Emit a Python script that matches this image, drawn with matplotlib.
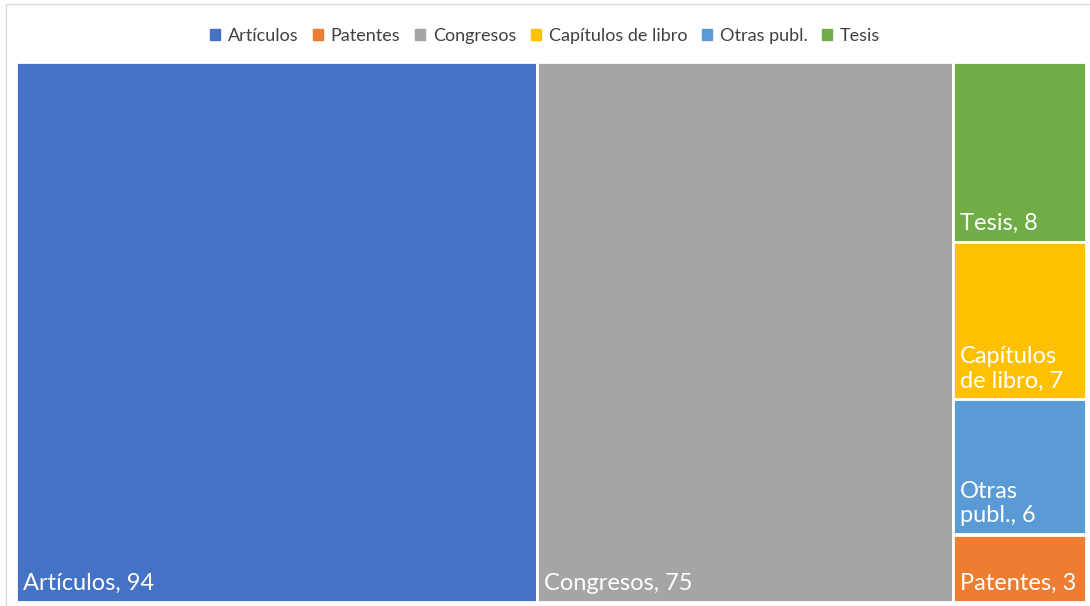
import matplotlib.pyplot as plt
from matplotlib.patches import Rectangle
import textwrap

# publication counts by type
categories = ['Artículos', 'Patentes', 'Congresos', 'Capítulos de libro', 'Otras publ.', 'Tesis']
values = [94, 3, 75, 7, 6, 8]
colors = ['#4472C4', '#ED7D31', '#A5A5A5', '#FFC000', '#5B9BD5', '#70AD47']

plt.rcParams['font.family'] = ['Lato', 'DejaVu Sans']

W, H = 1090, 606
fig = plt.figure(figsize=(W / 100, H / 100), dpi=100)
fig.patch.set_facecolor('white')

# light chart frame
fig.patches.append(Rectangle((6 / W, -0.1), 1.2, (H - 4) / H + 0.1, transform=fig.transFigure,
                             fill=False, edgecolor='#D9D9D9', linewidth=1.0))

ax = fig.add_axes([16 / W, 4 / H, 1070 / W, 540 / H])
ax.set_xlim(0, 1070)
ax.set_ylim(0, 540)
ax.axis('off')


def worst(row, side):
    s = sum(row)
    return max(max(side * side * r / (s * s), (s * s) / (side * side * r)) for r in row)


def squarify(vals, x, y, w, h):
    # vals already scaled to area; y measured from top
    rects = []
    vals = list(vals)
    while vals:
        side = min(w, h)
        row = [vals[0]]
        i = 1
        while i < len(vals) and worst(row + [vals[i]], side) <= worst(row, side):
            row.append(vals[i])
            i += 1
        vals = vals[i:]
        s = sum(row)
        if w >= h:
            cw = s / h
            cy = y
            for r in row:
                rh = r / cw
                rects.append((x, cy, cw, rh))
                cy += rh
            x += cw
            w -= cw
        else:
            rh = s / w
            cx = x
            for r in row:
                rw = r / rh
                rects.append((cx, y, rw, rh))
                cx += rw
            y += rh
            h -= rh
    return rects


order = sorted(range(len(values)), key=lambda i: -values[i])
total = sum(values)
scaled = [values[i] * 1070 * 540 / total for i in order]
rects = squarify(scaled, 0, 0, 1070, 540)

fig.canvas.draw()
renderer = fig.canvas.get_renderer()

for idx, (rx, ry, rw, rh) in zip(order, rects):
    y0 = 540 - ry - rh
    ax.add_patch(Rectangle((rx, y0), rw, rh, facecolor=colors[idx],
                           edgecolor='white', linewidth=2))
    label = f'{categories[idx]}, {values[idx]}'
    t = ax.text(rx + 7, y0 + 8, label, color='white', fontsize=17,
                ha='left', va='bottom', linespacing=1.2)
    # wrap label when it does not fit the cell
    width = 40
    while t.get_window_extent(renderer).width > rw - 14 and width > 4:
        width -= 1
        t.set_text(textwrap.fill(label, width))

handles = [Rectangle((0, 0), 1, 1, color=c) for c in colors]
fig.legend(handles, categories, loc='center', bbox_to_anchor=(0.5, 1 - 36 / H), ncol=6,
           frameon=False, fontsize=13, handlelength=0.55, handleheight=0.55,
           handletextpad=0.45, columnspacing=0.8, labelcolor='#404040')

fig.savefig('out.png', dpi=100)
